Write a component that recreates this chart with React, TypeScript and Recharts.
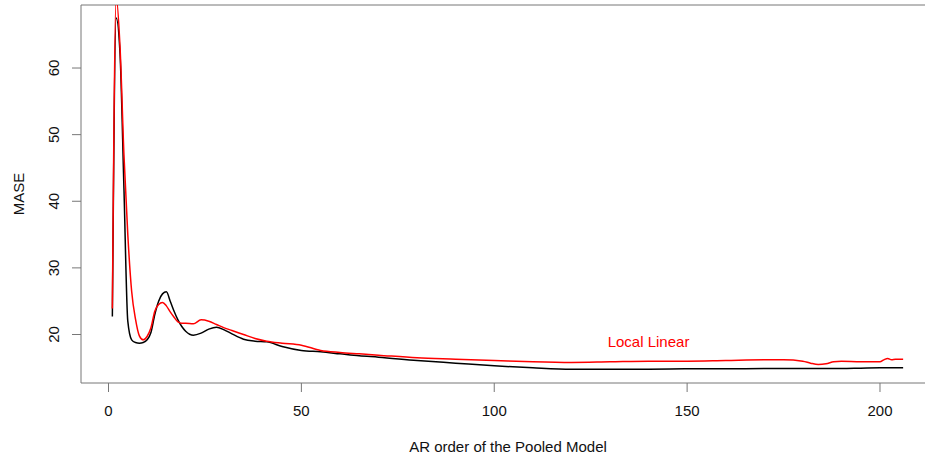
import { LineChart, Line, XAxis, YAxis, ReferenceArea, ReferenceDot, Label } from "recharts"

const arOrder = [
  1, 2, 3, 4, 5, 6, 7, 8, 9, 10, 11, 12, 13, 14, 15, 16, 17, 18, 19, 20, 22, 24, 26, 28, 30, 32, 35, 38, 41, 45,
  50, 55, 60, 65, 70, 80, 90, 100, 110, 120, 130, 140, 150, 160, 170, 175, 180, 182, 184, 186, 188, 190, 195, 200,
  201, 202, 203, 204, 206,
]

const pooledMase = [
  22.7, 67.5, 62.0, 42.0, 22.0, 19.2, 18.8, 18.7, 18.8, 19.2, 20.3, 23.0, 25.0, 26.1, 26.4, 25.0, 23.5, 22.2, 21.2, 20.5,
  19.9, 20.2, 20.8, 21.1, 20.7, 20.1, 19.3, 19.0, 18.9, 18.2, 17.6, 17.4, 17.1, 16.8, 16.6, 16.1, 15.7, 15.3, 15.0, 14.8,
  14.8, 14.8, 14.85, 14.85, 14.9, 14.9, 14.9, 14.9, 14.9, 14.9, 14.9, 14.9, 14.95, 15.0, 15.0, 15.0, 15.0, 15.0, 15.0,
]

const localLinearMase = [
  23.9, 70.5, 63.0, 47.0, 35.0, 26.5, 22.3, 19.8, 19.2, 19.7, 21.0, 23.5, 24.5, 24.8, 24.3, 23.4, 22.6, 21.9, 21.7, 21.7,
  21.6, 22.2, 22.0, 21.5, 21.0, 20.6, 20.0, 19.4, 19.0, 18.7, 18.4, 17.6, 17.3, 17.1, 16.9, 16.5, 16.3, 16.1, 15.9, 15.8,
  15.9, 16.0, 16.0, 16.1, 16.2, 16.2, 16.0, 15.7, 15.5, 15.6, 15.9, 16.0, 15.9, 15.9, 16.2, 16.4, 16.2, 16.3, 16.3,
]

const xTicks = [0, 50, 100, 150, 200]
const yTicks = [20, 30, 40, 50, 60]

const data = arOrder.map((order, i) => ({ order, pooled: pooledMase[i], local: localLinearMase[i] }))

const X_DOMAIN: [number, number] = [-7.13, 214.26]
const Y_DOMAIN: [number, number] = [12.72, 69.46]
const FONT = "'Liberation Sans', Arial, sans-serif"

// R draws y tick labels parallel to the axis (las = 0)
const YTick = (props: any) => {
  const { y, payload } = props
  const bx = 59.5
  return (
    <text x={bx} y={y} transform={`rotate(-90, ${bx}, ${y})`} textAnchor="middle" fontSize={15} fill="#111" fontFamily={FONT}>
      {payload.value}
    </text>
  )
}

export default function App() {
  return (
    <div style={{ position: "absolute", left: 0, top: 0, width: 925, height: 460, overflow: "hidden", background: "#fff" }}>
      <LineChart width={945} height={460} data={data} margin={{ top: 5, right: 10, bottom: 0, left: 0 }} style={{ fontFamily: FONT }}>
        <XAxis
          type="number"
          dataKey="order"
          domain={X_DOMAIN}
          allowDataOverflow
          ticks={xTicks}
          tickSize={9}
          tickMargin={13}
          axisLine={false}
          tickLine={{ stroke: "#777" }}
          tick={{ fill: "#111", fontSize: 15 }}
          height={77}
        >
          <Label
            content={() => (
              <text x={508} y={451.5} textAnchor="middle" fontSize={15} fill="#111" fontFamily={FONT}>
                AR order of the Pooled Model
              </text>
            )}
          />
        </XAxis>
        <YAxis
          type="number"
          domain={Y_DOMAIN}
          allowDataOverflow
          ticks={yTicks}
          tickSize={9}
          axisLine={false}
          tickLine={{ stroke: "#777" }}
          tick={<YTick />}
          width={81}
        >
          <Label
            content={() => (
              <text x={23.5} y={194} transform="rotate(-90, 23.5, 194)" textAnchor="middle" fontSize={15} fill="#111" fontFamily={FONT}>
                MASE
              </text>
            )}
          />
        </YAxis>
        <ReferenceArea x1={X_DOMAIN[0]} x2={X_DOMAIN[1]} y1={Y_DOMAIN[0]} y2={Y_DOMAIN[1]} fill="none" stroke="#777" strokeWidth={1} />
        <Line type="monotone" dataKey="pooled" stroke="#000" strokeWidth={1.5} dot={false} isAnimationActive={false} />
        <Line type="monotone" dataKey="local" stroke="#ff0000" strokeWidth={1.5} dot={false} isAnimationActive={false} />
        <ReferenceDot
          x={140}
          y={18.9}
          r={1}
          fill="none"
          stroke="none"
          label={{ value: "Local Linear", position: "center", fill: "#ff0000", fontSize: 15 }}
        />
      </LineChart>
    </div>
  )
}
